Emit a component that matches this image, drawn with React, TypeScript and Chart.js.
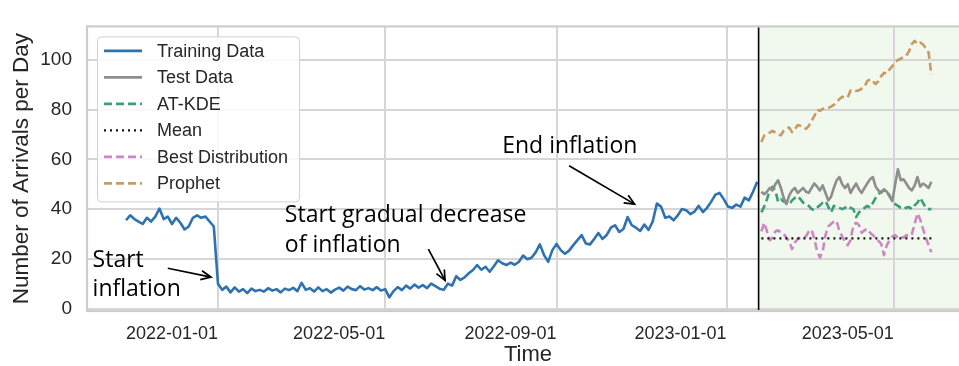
import React, { useEffect, useRef } from "react";
import { Chart, registerables } from "chart.js";

Chart.register(...registerables);

// ---- dates (all positions on the x axis are whole days since the epoch) ----
const DAY_MS = 86400000;
const toDay = (iso: string) => {
  const [y, m, d] = iso.split("-").map(Number);
  return Date.UTC(y, m - 1, d) / DAY_MS;
};

const xTickLabels = ["2022-01-01", "2022-05-01", "2022-09-01", "2023-01-01", "2023-05-01"];
const yTickValues = [0, 20, 40, 60, 80, 100];
const axisStart = "2021-09-29";
const axisEnd = "2023-06-24";
const yMin = -1;
const yMax = 113.5;
const forecastStart = "2023-01-24";

// ---- observed arrivals ----
const trainingStart = "2021-10-27";
const trainingStepDays = 3;
const trainingData = [
  35.5, 37.5, 36, 35, 34, 36.5, 35, 37, 40.2, 36,
  37, 34, 36.5, 34.5, 31.8, 33, 36.5, 37.5, 36.5, 37,
  35, 33, 10, 7.5, 8.8, 6.5, 8.5, 6.8, 7.8, 6.2,
  8, 7, 7.5, 6.8, 8.2, 7.2, 7.8, 6.5, 8, 7.4,
  8.3, 7, 10.3, 7.5, 8.2, 6.8, 8.5, 7, 7.8, 6.4,
  7.6, 8.4, 7.2, 8.8, 7.8, 7.4, 9, 7.6, 8.2, 7.4,
  8.6, 7.2, 7.8, 4.5, 7, 8.6, 7.4, 9.2, 8, 9.6,
  8.4, 9.4, 8.2, 10, 9, 8, 7.5, 10, 9.2, 13,
  11.5, 12.5, 14.2, 15.5, 17.5, 15.6, 16.8, 14.8, 17, 19.4,
  18.2, 17.5, 18.5, 17.6, 18.8, 21.3, 19.8, 20.4, 22.6, 25.8,
  21.5, 18.8, 23.5, 26, 23.5, 22, 23.3, 25.5, 27.5, 29.5,
  26.2, 25.8, 28, 30.4, 28, 29.6, 32.5, 33.5, 30.8, 32,
  36.8, 33.5, 32.5, 31.2, 33.8, 31.6, 35, 42.2, 41, 36.5,
  37, 35.5, 37.5, 40, 39.5, 38, 39, 41.3, 38.8, 40.5,
  43, 45.8, 46.5, 44, 41, 40.5, 41.8, 41, 44.6, 43.5,
  47, 51,
];

// ---- test period and forecasts ----
const testStart = "2023-01-26";
const testStepDays = 2;
const testData = [
  47, 46, 47, 48.5, 47.5, 50, 51.6, 48.5, 44.5, 42,
  45.5, 47.5, 48.5, 46.5, 47.5, 48.5, 47, 46.5, 48.5, 50.3,
  49, 47.5, 49.5, 46.5, 43.5, 45, 48.5, 51.6, 52.9, 50,
  48.5, 50, 46.5, 48.5, 50.3, 48, 46.5, 48.5, 50.3, 52,
  52.9, 49, 47.5, 46.5, 48, 47, 45, 43.2, 50, 56,
  51.6, 52, 50.3, 48.5, 47.5, 49.5, 52.9, 49, 50.3, 49.5,
  48.5, 51,
];
const atKdeForecast = [
  38.7, 41, 44, 47.5, 49, 47.5, 43, 44, 43, 42.5,
  41.8, 43.5, 44.5, 45.2, 44, 42.6, 41.8, 41.3, 40, 39.6,
  40.6, 41.5, 42.6, 43.2, 41, 38.7, 41.3, 40.8, 40.5, 40,
  40.5, 41.3, 40.5, 40, 36.8, 38.7, 39.4, 40.5, 41.3, 40.6,
  42.5, 44.5, 46, 47.1, 47.5, 47.1, 45.5, 43.2, 42, 41.3,
  40.5, 40, 40.6, 40.8, 40, 41.5, 42.6, 44.5, 42.5, 40.5,
  40, 40,
];
const meanForecast = 28.2;
const bestDistributionForecast = [
  31, 34.5, 31, 27.5, 28.5, 31, 31.5, 30.5, 30, 28.5,
  27, 23.9, 26.5, 28, 28.5, 28.4, 29, 31, 31.7, 28,
  23, 20.5, 23, 29.5, 33, 34, 35, 35.2, 31, 29,
  27, 25.5, 27.5, 33.5, 34.5, 33.6, 30.5, 31.5, 32, 30.5,
  29.5, 28.4, 27.2, 26, 21.5, 25.5, 27.5, 29, 29.5, 28.5,
  29, 28.5, 29.5, 29, 30, 34, 38.3, 35.8, 32, 28.5,
  25.5, 22.6,
];
const prophetForecast = [
  67, 69.5, 70, 70.8, 71.5, 70.8, 70, 69.7, 71.5, 72.5,
  72.8, 71, 72, 73.8, 73.5, 73, 72.3, 73.5, 75.5, 77.4,
  80, 79.5, 80.3, 80.7, 80.7, 81.2, 81.9, 83, 84.3, 85.2,
  84.8, 85, 87.7, 87.3, 87.5, 87.8, 88.5, 89.2, 91.5, 92.3,
  91.5, 90.3, 91.5, 93.5, 94.8, 94.5, 96.2, 97.5, 99.2, 100,
  100.5, 101.2, 101.8, 103.5, 106.5, 107.7, 106.4, 107, 106.2, 104.8,
  103, 94,
];

// ---- annotations (anchored in data coordinates) ----
type Note = { lines: string[]; date: string; value: number };
const notes: Note[] = [
  { lines: ["Start", "inflation"], date: "2021-10-03", value: 19.5 },
  { lines: ["Start gradual decrease", "of inflation"], date: "2022-02-18", value: 37.4 },
  { lines: ["End inflation"], date: "2022-07-24", value: 65.4 },
];
type Arrow = { from: [string, number]; to: [string, number] };
const arrows: Arrow[] = [
  { from: ["2021-11-26", 16.2], to: ["2021-12-27", 12.6] },
  { from: ["2022-06-01", 23.9], to: ["2022-06-13", 11.3] },
  { from: ["2022-09-10", 57.4], to: ["2022-10-27", 42] },
];

const COLORS = {
  training: "#2f72b0",
  test: "#8e8e8e",
  atKde: "#3a9e78",
  mean: "#111111",
  best: "#cc88c4",
  prophet: "#c99a62",
  text: "#262626",
  grid: "#d6d6d6",
  frame: "#cdcdcd",
  shade: "#f1f8ee",
};

const series = (start: string, step: number, values: number[]) =>
  values.map((v, i) => ({ x: toDay(start) + i * step, y: v }));

const testLastDay = toDay(testStart) + (testData.length - 1) * testStepDays;

function drawArrow(ctx: CanvasRenderingContext2D, x1: number, y1: number, x2: number, y2: number) {
  ctx.beginPath();
  ctx.moveTo(x1, y1);
  ctx.lineTo(x2, y2);
  ctx.stroke();
  const ang = Math.atan2(y2 - y1, x2 - x1);
  const len = 11;
  const spread = 0.42;
  ctx.beginPath();
  ctx.moveTo(x2 - len * Math.cos(ang - spread), y2 - len * Math.sin(ang - spread));
  ctx.lineTo(x2, y2);
  ctx.lineTo(x2 - len * Math.cos(ang + spread), y2 - len * Math.sin(ang + spread));
  ctx.stroke();
}

const overlayPlugin = {
  id: "overlay",
  beforeDraw(chart: any) {
    const { ctx, chartArea: a, scales } = chart;
    const sx = scales.x.getPixelForValue(toDay(forecastStart));
    ctx.save();
    ctx.fillStyle = COLORS.shade;
    ctx.fillRect(sx, a.top, a.right - sx, a.bottom - a.top);
    ctx.restore();
  },
  afterDatasetsDraw(chart: any) {
    const { ctx, chartArea: a, scales } = chart;
    const { x, y } = scales;
    ctx.save();
    // split between training and test period
    const sx = x.getPixelForValue(toDay(forecastStart));
    ctx.strokeStyle = "#000";
    ctx.lineWidth = 1.6;
    ctx.beginPath();
    ctx.moveTo(sx, a.top);
    ctx.lineTo(sx, a.bottom);
    ctx.stroke();

    // axes frame
    ctx.strokeStyle = COLORS.frame;
    ctx.lineWidth = 2.2;
    ctx.strokeRect(a.left, a.top, a.right - a.left, a.bottom - a.top);

    // annotation text
    ctx.fillStyle = "#000";
    ctx.font = '23px "Open Sans"';
    ctx.textAlign = "left";
    ctx.textBaseline = "middle";
    for (const n of notes) {
      const px = x.getPixelForValue(toDay(n.date));
      const py = y.getPixelForValue(n.value);
      n.lines.forEach((line, i) => ctx.fillText(line, px, py + i * 29.5));
    }
    // annotation arrows
    ctx.strokeStyle = "#000";
    ctx.lineWidth = 1.7;
    for (const ar of arrows) {
      drawArrow(
        ctx,
        x.getPixelForValue(toDay(ar.from[0])),
        y.getPixelForValue(ar.from[1]),
        x.getPixelForValue(toDay(ar.to[0])),
        y.getPixelForValue(ar.to[1])
      );
    }
    ctx.restore();
  },
  afterDraw(chart: any) {
    const { ctx, chartArea: a } = chart;
    const datasets = chart.data.datasets;
    const lx = a.left + 10;
    const ly = a.top + 10;
    const lw = 202;
    const lh = 165;
    ctx.save();
    ctx.fillStyle = "rgba(255,255,255,0.85)";
    ctx.strokeStyle = "#d2d2d2";
    ctx.lineWidth = 1;
    ctx.beginPath();
    ctx.roundRect(lx + 0.5, ly + 0.5, lw, lh, 4);
    ctx.fill();
    ctx.stroke();
    ctx.font = '18px "Liberation Sans"';
    ctx.textBaseline = "middle";
    ctx.textAlign = "left";
    datasets.forEach((ds: any, i: number) => {
      const cy = ly + 14.5 + i * 26.5;
      ctx.strokeStyle = ds.borderColor;
      ctx.lineWidth = ds.borderWidth;
      ctx.setLineDash(ds.borderDash || []);
      ctx.beginPath();
      ctx.moveTo(lx + 7, cy);
      ctx.lineTo(lx + 45, cy);
      ctx.stroke();
      ctx.setLineDash([]);
      ctx.fillStyle = COLORS.text;
      ctx.fillText(ds.label, lx + 60, cy + 1);
    });
    ctx.restore();
  },
};

const tickLabelByDay = new Map(xTickLabels.map((s) => [toDay(s), s]));

export default function App() {
  const ref = useRef<HTMLCanvasElement>(null);

  useEffect(() => {
    const lineBase = { pointRadius: 0, pointHoverRadius: 0, tension: 0, fill: false, borderJoinStyle: "round" as const };
    const chart = new Chart(ref.current!, {
      type: "line",
      data: {
        datasets: [
          { ...lineBase, label: "Training Data", data: series(trainingStart, trainingStepDays, trainingData), borderColor: COLORS.training, borderWidth: 2.6 },
          { ...lineBase, label: "Test Data", data: series(testStart, testStepDays, testData), borderColor: COLORS.test, borderWidth: 2.6 },
          { ...lineBase, label: "AT-KDE", data: series(testStart, testStepDays, atKdeForecast), borderColor: COLORS.atKde, borderWidth: 2.6, borderDash: [8, 4] },
          {
            ...lineBase,
            label: "Mean",
            data: [
              { x: toDay(testStart), y: meanForecast },
              { x: testLastDay, y: meanForecast },
            ],
            borderColor: COLORS.mean,
            borderWidth: 2.2,
            borderDash: [2, 4],
          },
          { ...lineBase, label: "Best Distribution", data: series(testStart, testStepDays, bestDistributionForecast), borderColor: COLORS.best, borderWidth: 2.6, borderDash: [8, 4] },
          { ...lineBase, label: "Prophet", data: series(testStart, testStepDays, prophetForecast), borderColor: COLORS.prophet, borderWidth: 2.6, borderDash: [8, 4] },
        ],
      },
      options: {
        animation: false,
        responsive: true,
        maintainAspectRatio: false,
        devicePixelRatio: 1,
        parsing: false as any,
        layout: { padding: { top: 15, left: 0, right: 0, bottom: 0 } },
        plugins: { legend: { display: false }, tooltip: { enabled: false } },
        events: [],
        scales: {
          x: {
            type: "linear",
            min: toDay(axisStart),
            max: toDay(axisEnd),
            afterBuildTicks: (axis: any) => {
              axis.ticks = xTickLabels.map((s) => ({ value: toDay(s) }));
            },
            afterFit: (scale: any) => {
              scale.height = 55;
            },
            grid: { color: COLORS.grid, lineWidth: 2, drawTicks: false },
            border: { display: false },
            ticks: {
              align: "end",
              padding: 12,
              maxRotation: 0,
              autoSkip: false,
              color: COLORS.text,
              font: { family: '"Liberation Sans"', size: 18 },
              callback: (v: any) => tickLabelByDay.get(Number(v)) ?? "",
            },
            title: {
              display: true,
              text: "Time",
              color: COLORS.text,
              font: { family: '"Liberation Sans"', size: 22, lineHeight: 1 },
              padding: { top: 0, bottom: 0 },
            },
          },
          y: {
            type: "linear",
            min: yMin,
            max: yMax,
            afterBuildTicks: (axis: any) => {
              axis.ticks = yTickValues.map((v) => ({ value: v }));
            },
            afterFit: (scale: any) => {
              scale.width = 87;
            },
            grid: { color: COLORS.grid, lineWidth: 2, drawTicks: false },
            border: { display: false },
            ticks: {
              padding: 15,
              color: COLORS.text,
              font: { family: '"Liberation Sans"', size: 19 },
              callback: (v: any) => String(v),
            },
            title: {
              display: true,
              text: "Number of Arrivals per Day",
              color: COLORS.text,
              font: { family: '"Liberation Sans"', size: 22.5, lineHeight: 1 },
              padding: { top: 11, bottom: 0 },
            },
          },
        },
      },
      plugins: [overlayPlugin],
    } as any);
    return () => chart.destroy();
  }, []);

  return (
    <div style={{ position: "fixed", left: 0, top: 0, width: 959, height: 366, overflow: "hidden", background: "#fff" }}>
      <div style={{ position: "relative", width: 969, height: 366 }}>
        <canvas ref={ref} />
      </div>
    </div>
  );
}
